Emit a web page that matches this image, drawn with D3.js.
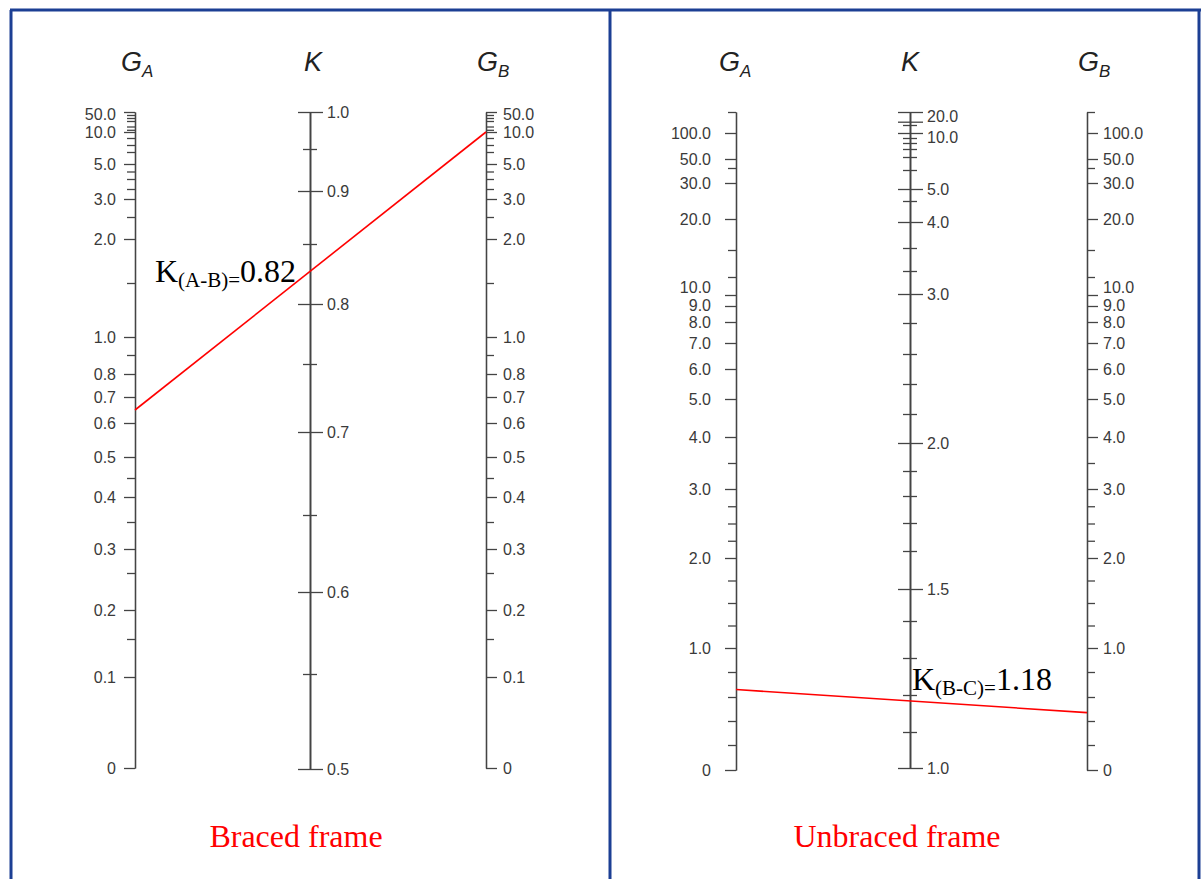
<!DOCTYPE html>
<html>
<head>
<meta charset="utf-8">
<script src="https://cdn.jsdelivr.net/npm/d3@7"></script>
<style>
  body { margin: 0; background: #fff; }
  .axis text { font-family: "Liberation Sans", Arial, sans-serif; font-size: 16px; fill: #3a3a3a; }
  .axis path, .axis line { stroke: #444; stroke-width: 1.3; }
</style>
</head>
<body>
<div id="chart"></div>
<script>
// G scale values (same on both G_A and G_B), braced frame
const gBracedMajor = [50, 10, 5, 3, 2, 1, 0.8, 0.7, 0.6, 0.5, 0.4, 0.3, 0.2, 0.1, 0];
const gBracedMinor = [40, 30, 20, 15, 12, 8, 7, 6, 4.5, 4, 3.5, 2.5, 1.5, 0.9, 0.45, 0.35, 0.25, 0.15];
const kBracedMajor = [1.0, 0.9, 0.8, 0.7, 0.6, 0.5];
const kBracedMinor = [0.95, 0.85, 0.75, 0.65, 0.55];

// unbraced frame (1000 and 100 stand for the infinity end of the scales)
const gUnbracedMajor = [100, 50, 30, 20, 10, 9, 8, 7, 6, 5, 4, 3, 2, 1, 0];
const gUnbracedMinor = [1000, 40, 15, 12, 3.5, 2.75, 2.5, 2.25, 1.75, 1.5, 1.25, 0.8, 0.6, 0.4, 0.2];
const kUnbracedMajor = [100, 20, 10, 5, 4, 3, 2, 1.5, 1.0];
const kUnbracedMinor = [15, 9, 8, 7, 6, 5.5, 4.5, 3.5, 3.25, 2.8, 2.6, 2.4, 2.2, 1.9, 1.8, 1.7, 1.6, 1.4, 1.3, 1.2, 1.1];

// the two worked examples (G_A, G_B, K result)
const bracedReading = { ga: 0.65, gb: 10, k: '0.82', name: '(A-B)=' };
const unbracedReading = { ga: 0.66, gb: 0.47, k: '1.18', name: '(B-C)=' };

const titles = ['Braced frame', 'Unbraced frame'];

const W = 1201, H = 879;
const svg = d3.select('#chart').append('svg')
  .attr('width', W).attr('height', H);
svg.append('rect').attr('width', W).attr('height', H).attr('fill', '#fff');

// nomograph scales are not linear: piecewise calibration of each scale
const gBraced = d3.scaleLinear()
  .domain([0, 0.1, 0.15, 0.2, 0.25, 0.3, 0.35, 0.4, 0.45, 0.5, 0.6, 0.7, 0.8, 0.9, 1, 1.5, 2, 2.5, 3, 4, 5, 6, 7, 8, 10, 20, 50])
  .range([768, 677, 639, 610, 573, 549, 522, 497, 478, 457, 423, 397, 374, 355, 337, 283, 239, 217, 199, 179, 164, 152, 145, 138, 132, 121, 112]);
const kBraced = d3.scaleLinear()
  .domain([0.5, 0.55, 0.6, 0.65, 0.7, 0.75, 0.8, 0.85, 0.9, 0.95, 1])
  .range([769, 674, 592, 515, 432, 364, 304, 244, 191, 149, 112]);
const gUnbraced = d3.scaleLinear()
  .domain([0, 0.2, 0.4, 0.6, 0.8, 1, 1.5, 2, 3, 4, 5, 6, 7, 8, 9, 10, 15, 20, 30, 40, 50, 100, 1000])
  .range([770, 745, 721, 697, 672, 648, 603, 558, 489, 437, 399, 369, 343, 322, 306, 295, 250, 219, 183, 168, 159, 133, 112]);
const kUnbraced = d3.scaleLinear()
  .domain([1, 1.1, 1.2, 1.3, 1.4, 1.5, 1.6, 1.7, 1.8, 1.9, 2, 2.2, 2.4, 2.6, 2.8, 3, 3.5, 4, 4.5, 5, 5.5, 6, 7, 8, 9, 10, 15, 20, 100])
  .range([768, 732, 695, 658, 621, 589, 551, 523, 496, 471, 443, 414, 384, 354, 323, 294, 248, 222, 201, 189, 170, 157, 149, 143, 138, 133, 125, 121.7, 112]);

const fmt = d => (d === 0 ? '0' : d3.format('.1f')(d));

// crowded labels are pushed apart a little, like on the printed chart
function nudge(g, shifts) {
  g.selectAll('.tick text').each(function (d) {
    if (shifts[d]) d3.select(this).attr('dy', (0.32 + shifts[d] / 16) + 'em');
  });
}

function drawG(x, scale, major, minor, side, pad, shifts) {
  const g = svg.append('g').attr('class', 'axis').attr('transform', `translate(${x},0)`);
  const mk = side === 'left' ? d3.axisLeft : d3.axisRight;
  g.append('g').call(mk(scale).tickValues(minor).tickSize(8).tickSizeOuter(0).tickFormat(''));
  const maj = g.append('g').call(mk(scale).tickValues(major).tickSize(11).tickSizeOuter(0).tickPadding(pad).tickFormat(fmt));
  nudge(maj, shifts || {});
  return g;
}

function drawK(x, scale, major, minor, pad, blank, shifts) {
  const g = svg.append('g').attr('class', 'axis').attr('transform', `translate(${x},0)`);
  g.append('g').call(d3.axisLeft(scale).tickValues(minor).tickSize(7).tickSizeOuter(0).tickFormat(''));
  g.append('g').call(d3.axisRight(scale).tickValues(minor).tickSize(7).tickSizeOuter(0).tickFormat(''));
  g.append('g').call(d3.axisLeft(scale).tickValues(major).tickSize(12).tickSizeOuter(0).tickFormat(''));
  const maj = g.append('g').call(d3.axisRight(scale).tickValues(major).tickSize(13).tickSizeOuter(0).tickPadding(pad)
    .tickFormat(d => (d === blank ? '' : d3.format('.1f')(d))));
  nudge(maj, shifts || {});
  return g;
}

function title(x, main, sub) {
  const t = svg.append('text').attr('x', x).attr('y', 71)
    .style('font-family', '"Liberation Sans", Arial, sans-serif')
    .style('font-style', 'italic').style('font-size', '27px').attr('fill', '#222');
  t.append('tspan').text(main);
  if (sub) t.append('tspan').attr('dy', 6).style('font-size', '17px').text(sub);
}

function reading(xa, xk, xb, gScale, r, dx, dy) {
  const y1 = gScale(r.ga), y2 = gScale(r.gb);
  svg.append('line')
    .attr('x1', xa).attr('y1', y1).attr('x2', xb).attr('y2', y2)
    .attr('stroke', 'red').attr('stroke-width', 1.6);
  const yk = y1 + (y2 - y1) * (xk - xa) / (xb - xa);
  const t = svg.append('text').attr('x', xk + dx).attr('y', yk + dy)
    .style('font-family', '"Liberation Serif", "Times New Roman", serif')
    .style('font-size', '32px').attr('fill', '#000');
  t.append('tspan').text('K');
  t.append('tspan').attr('dy', 5).style('font-size', '21px').text(r.name);
  t.append('tspan').attr('dy', -5).text(r.k);
}

// braced frame panel
const xA1 = 135, xK1 = 310, xB1 = 486;
drawG(xA1, gBraced, gBracedMajor, gBracedMinor, 'left', 8, { 50: 2 });
drawK(xK1, kBraced, kBracedMajor, kBracedMinor, 4);
drawG(xB1, gBraced, gBracedMajor, gBracedMinor, 'right', 6, { 50: 2 });
title(121, 'G', 'A');
title(304, 'K');
title(477, 'G', 'B');
reading(xA1, xK1, xB1, gBraced, bracedReading, -155, 11);

// unbraced frame panel
const xA2 = 736, xK2 = 910, xB2 = 1087;
const gShift = { 10: -8, 9: -1 };
drawG(xA2, gUnbraced, gUnbracedMajor, gUnbracedMinor, 'left', 14, gShift);
drawK(xK2, kUnbraced, kUnbracedMajor, kUnbracedMinor, 4, 100, { 20: -5, 10: 4 });
drawG(xB2, gUnbraced, gUnbracedMajor, gUnbracedMinor, 'right', 5, gShift);
title(719, 'G', 'A');
title(901, 'K');
title(1078, 'G', 'B');
reading(xA2, xK2, xB2, gUnbraced, unbracedReading, 2, -11);

// captions
svg.selectAll('.caption').data(titles).enter().append('text')
  .attr('class', 'caption')
  .attr('x', (d, i) => (i === 0 ? 296 : 897))
  .attr('y', 847)
  .attr('text-anchor', 'middle')
  .style('font-family', '"Liberation Serif", "Times New Roman", serif')
  .style('font-size', '32px')
  .attr('fill', 'red')
  .text(d => d);

// panel borders
const blue = '#1c3f94';
svg.append('line').attr('x1', 11).attr('y1', 10).attr('x2', 11).attr('y2', H).attr('stroke', blue).attr('stroke-width', 3);
svg.append('line').attr('x1', 10).attr('y1', 10).attr('x2', W).attr('y2', 10).attr('stroke', blue).attr('stroke-width', 3);
svg.append('line').attr('x1', 610).attr('y1', 10).attr('x2', 610).attr('y2', H).attr('stroke', blue).attr('stroke-width', 3);
svg.append('line').attr('x1', 1199).attr('y1', 10).attr('x2', 1199).attr('y2', H).attr('stroke', blue).attr('stroke-width', 3);
</script>
</body>
</html>
